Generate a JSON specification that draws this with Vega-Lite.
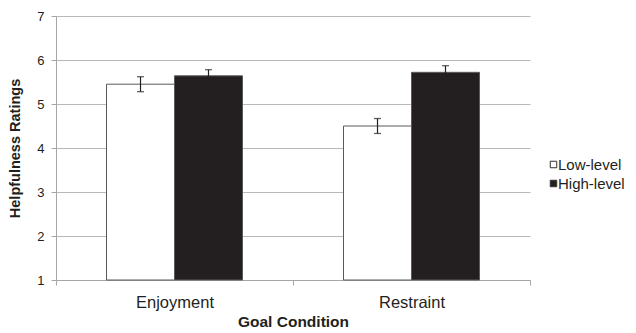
{
  "$schema": "https://vega.github.io/schema/vega-lite/v6.json",
  "width": 474,
  "height": 264,
  "autosize": {"type": "none"},
  "padding": {"left": 56, "top": 16, "right": 106, "bottom": 53},
  "background": "white",
  "config": {
    "view": {"stroke": null},
    "font": "Liberation Sans"
  },
  "data": {
    "values": [
      {"goal": "Enjoyment", "level": "Low-level", "mean": 5.45, "lo": 5.28, "hi": 5.62},
      {"goal": "Enjoyment", "level": "High-level", "mean": 5.64, "lo": 5.5, "hi": 5.78},
      {"goal": "Restraint", "level": "Low-level", "mean": 4.5, "lo": 4.33, "hi": 4.67},
      {"goal": "Restraint", "level": "High-level", "mean": 5.72, "lo": 5.57, "hi": 5.87}
    ]
  },
  "encoding": {
    "x": {
      "field": "goal",
      "type": "nominal",
      "sort": ["Enjoyment", "Restraint"],
      "scale": {"paddingInner": 0, "paddingOuter": 0},
      "axis": {
        "title": "Goal Condition",
        "titleFontSize": 15.5,
        "titleFontWeight": "bold",
        "titleColor": "#231f20",
        "titlePadding": 4,
        "labelAngle": 0,
        "labelFontSize": 16.5,
        "labelColor": "#231f20",
        "labelPadding": 9,
        "tickBand": "extent",
        "tickColor": "#a6a6a6",
        "tickSize": 5,
        "domainColor": "#a6a6a6",
        "grid": false
      }
    },
    "xOffset": {
      "field": "level",
      "type": "nominal",
      "sort": ["Low-level", "High-level"],
      "scale": {"paddingInner": 0, "paddingOuter": 0.743}
    }
  },
  "layer": [
    {
      "mark": {"type": "bar", "stroke": "#5a5a5a", "strokeWidth": 1},
      "encoding": {
        "y": {
          "field": "mean",
          "type": "quantitative",
          "scale": {"domain": [1, 7], "nice": false, "zero": false},
          "axis": {
            "title": "Helpfulness Ratings",
            "titleFontSize": 14.5,
            "titleFontWeight": "bold",
            "titleColor": "#231f20",
            "titlePadding": 14,
            "values": [1, 2, 3, 4, 5, 6, 7],
            "labelFontSize": 13,
            "labelColor": "#231f20",
            "labelPadding": 7,
            "tickColor": "#a6a6a6",
            "tickSize": 5,
            "domainColor": "#a6a6a6",
            "gridColor": "#b8b8b8",
            "gridWidth": 1.2
          }
        },
        "y2": {"datum": 1},
        "fill": {
          "field": "level",
          "type": "nominal",
          "sort": ["Low-level", "High-level"],
          "scale": {"range": ["#ffffff", "#231f20"]},
          "legend": {
            "title": null,
            "orient": "none",
            "legendX": 490,
            "legendY": 141,
            "symbolType": "square",
            "symbolSize": 42,
            "symbolStrokeColor": "#333333",
            "symbolStrokeWidth": 1,
            "labelFontSize": 15,
            "labelColor": "#231f20",
            "labelOffset": -3,
            "rowPadding": 3
          }
        }
      }
    },
    {
      "mark": {"type": "rule", "color": "#231f20", "strokeWidth": 1.2},
      "encoding": {
        "y": {"field": "lo", "type": "quantitative"},
        "y2": {"field": "hi"}
      }
    },
    {
      "mark": {"type": "tick", "color": "#231f20", "size": 7, "thickness": 1.3},
      "encoding": {
        "y": {"field": "lo", "type": "quantitative"}
      }
    },
    {
      "mark": {"type": "tick", "color": "#231f20", "size": 7, "thickness": 1.3},
      "encoding": {
        "y": {"field": "hi", "type": "quantitative"}
      }
    }
  ]
}
